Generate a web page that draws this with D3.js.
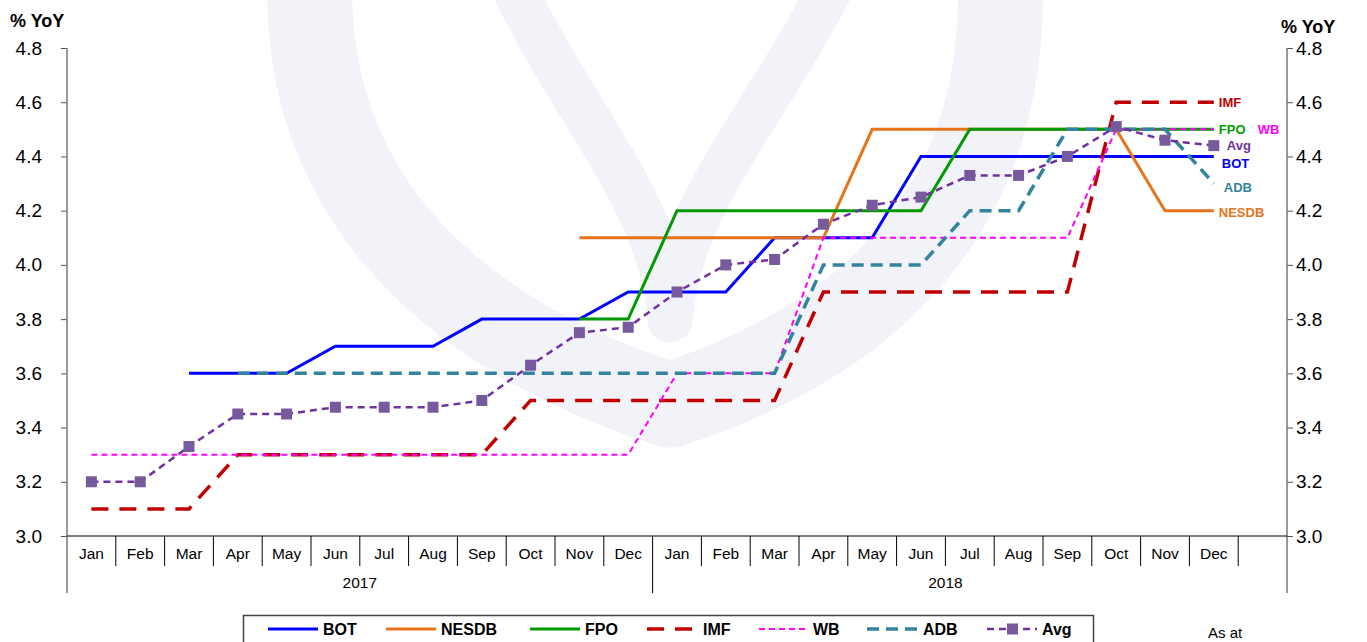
<!DOCTYPE html>
<html lang="en">
  <head>
    <meta charset="UTF-8" />
    <title>GDP forecasts</title>
    <style>
      body { margin: 0; background: #fff; }
      svg { display: block; font-family: "Liberation Sans", Arial, sans-serif; }
    </style>
  </head>
  <body>
    <div id="chart">
      <svg width="1367" height="642"></svg>
    </div>
    <script src="https://d3js.org/d3.v7.min.js"></script>
    <script>
      // categories: 24 months + one empty slot before the right axis
      var monthNames = ["Jan", "Feb", "Mar", "Apr", "May", "Jun", "Jul", "Aug", "Sep", "Oct", "Nov", "Dec"];
      var years = ["2017", "2018"];
      var yTicks = [3.0, 3.2, 3.4, 3.6, 3.8, 4.0, 4.2, 4.4, 4.6, 4.8];

      // % YoY forecasts, Jan 2017 .. Dec 2018 (null = no forecast)
      var bot = [null, null, 3.6, 3.6, 3.6, 3.7, 3.7, 3.7, 3.8, 3.8, 3.8, 3.9,
                 3.9, 3.9, 4.1, 4.1, 4.1, 4.4, 4.4, 4.4, 4.4, 4.4, 4.4, 4.4];
      var nesdb = [null, null, null, null, null, null, null, null, null, null, 4.1, 4.1,
                   4.1, 4.1, 4.1, 4.1, 4.5, 4.5, 4.5, 4.5, 4.5, 4.5, 4.2, 4.2];
      var fpo = [null, null, null, null, null, null, null, null, null, null, 3.8, 3.8,
                 4.2, 4.2, 4.2, 4.2, 4.2, 4.2, 4.5, 4.5, 4.5, 4.5, 4.5, 4.5];
      var imf = [3.1, 3.1, 3.1, 3.3, 3.3, 3.3, 3.3, 3.3, 3.3, 3.5, 3.5, 3.5,
                 3.5, 3.5, 3.5, 3.9, 3.9, 3.9, 3.9, 3.9, 3.9, 4.6, 4.6, 4.6];
      var wb = [3.3, 3.3, 3.3, 3.3, 3.3, 3.3, 3.3, 3.3, 3.3, 3.3, 3.3, 3.3,
                3.6, 3.6, 3.6, 4.1, 4.1, 4.1, 4.1, 4.1, 4.1, 4.5, 4.5, 4.5];
      var adb = [null, null, null, 3.6, 3.6, 3.6, 3.6, 3.6, 3.6, 3.6, 3.6, 3.6,
                 3.6, 3.6, 3.6, 4.0, 4.0, 4.0, 4.2, 4.2, 4.5, 4.5, 4.5, 4.3];
      var avg = [3.2, 3.2, 3.33, 3.45, 3.45, 3.475, 3.475, 3.475, 3.5, 3.63, 3.75, 3.77,
                 3.9, 4.0, 4.02, 4.15, 4.22, 4.25, 4.33, 4.33, 4.4, 4.51, 4.46, 4.44];

      var series = [
        { name: "BOT", values: bot, color: "#0000ff", width: 3, dash: null, labelColor: "#0000ff" },
        { name: "NESDB", values: nesdb, color: "#e8731a", width: 3, dash: null, labelColor: "#e8731a" },
        { name: "FPO", values: fpo, color: "#009a00", width: 3, dash: null, labelColor: "#00a000" },
        { name: "IMF", values: imf, color: "#c00000", width: 3.5, dash: "17,11", labelColor: "#c00000" },
        { name: "WB", values: wb, color: "#ff00ff", width: 2, dash: "6,4", labelColor: "#ff00ff" },
        { name: "ADB", values: adb, color: "#31849b", width: 3.5, dash: "12,7", labelColor: "#31849b" },
        { name: "Avg", values: avg, color: "#7030a0", width: 2.5, dash: "7,5", labelColor: "#7030a0", marker: "#775a9e" }
      ];

      // end-of-line labels (offsets from last point)
      var endLabels = {
        IMF: { dx: 5, dy: 0 }, FPO: { dx: 5, dy: 0 }, WB: { dx: 44, dy: 0 },
        Avg: { dx: 13, dy: 0 }, BOT: { dx: 8, dy: 7 }, ADB: { dx: 10, dy: 4 }, NESDB: { dx: 5, dy: 2 }
      };
      var legendPos = [
        { lx: 268, tx: 323 }, { lx: 386, tx: 441 }, { lx: 530, tx: 585 }, { lx: 647, tx: 703 },
        { lx: 759, tx: 813 }, { lx: 867, tx: 923 }, { lx: 987, tx: 1042 }
      ];

      var svg = d3.select("#chart>svg");
      var plotLeft = 67, plotRight = 1287, plotTop = 48, plotBottom = 536, axisFoot = 593;

      var cats = [];
      years.forEach(function (yr) {
        monthNames.forEach(function (m) { cats.push(yr + "-" + m); });
      });
      var slots = cats.concat(["blank"]);

      var x = d3.scaleBand().domain(slots).range([plotLeft, plotRight]).paddingInner(0).paddingOuter(0);
      var y = d3.scaleLinear().domain([3.0, 4.8]).range([plotBottom, plotTop]);
      var cx = function (i) { return x(cats[i]) + x.bandwidth() / 2; };

      // faint watermark behind the plot
      var wm = svg.append("g").attr("fill", "none").attr("stroke", "#f2f3f9").attr("stroke-linecap", "round");
      wm.append("path").attr("stroke-width", 85).attr("d", "M310,-30 C300,210 470,340 670,405");
      wm.append("path").attr("stroke-width", 85).attr("d", "M1000,-30 C1010,210 870,340 670,405");
      wm.append("path").attr("stroke-width", 45).attr("d", "M505,-30 C575,120 662,200 670,320");
      wm.append("path").attr("stroke-width", 45).attr("d", "M840,-30 C765,120 680,200 670,320");

      // y axes
      var fmt = d3.format(".1f");
      var yl = svg.append("g").attr("transform", "translate(" + plotLeft + ",0)")
        .call(d3.axisLeft(y).tickValues(yTicks).tickFormat(fmt).tickSize(6).tickPadding(19));
      var yr = svg.append("g").attr("transform", "translate(" + plotRight + ",0)")
        .call(d3.axisRight(y).tickValues(yTicks).tickFormat(fmt).tickSize(6).tickPadding(3));
      [yl, yr].forEach(function (g) {
        g.select(".domain").remove();
        g.selectAll(".tick line").attr("stroke", "#555");
        g.selectAll(".tick text").attr("font-size", 19).attr("font-family", "Liberation Sans, Arial").attr("fill", "#000");
      });
      svg.append("line").attr("x1", plotLeft).attr("x2", plotLeft).attr("y1", plotTop).attr("y2", axisFoot)
        .attr("stroke", "#777").attr("stroke-width", 1.5);
      svg.append("line").attr("x1", plotRight).attr("x2", plotRight).attr("y1", plotTop).attr("y2", axisFoot)
        .attr("stroke", "#777").attr("stroke-width", 1.5);
      svg.append("line").attr("x1", plotLeft).attr("x2", plotRight).attr("y1", plotBottom).attr("y2", plotBottom)
        .attr("stroke", "#000").attr("stroke-width", 1.2);

      // axis titles
      svg.append("text").attr("x", 10).attr("y", 27).attr("font-size", 18).attr("font-weight", "bold").text("% YoY");
      svg.append("text").attr("x", 1281).attr("y", 33).attr("font-size", 18).attr("font-weight", "bold").text("% YoY");

      // category axis: month separators, labels, years
      var cat = svg.append("g");
      cats.forEach(function (c, i) {
        if (i > 0) {
          cat.append("line").attr("x1", x(c)).attr("x2", x(c)).attr("y1", plotBottom)
            .attr("y2", i % 12 === 0 ? axisFoot : 566).attr("stroke", "#000").attr("stroke-width", 1);
        }
        cat.append("text").attr("x", cx(i)).attr("y", 559).attr("text-anchor", "middle")
          .attr("font-size", 15.5).text(monthNames[i % 12]);
      });
      cat.append("line").attr("x1", x("blank")).attr("x2", x("blank")).attr("y1", plotBottom).attr("y2", 566)
        .attr("stroke", "#000");
      years.forEach(function (yrName, k) {
        var x0 = x(cats[k * 12]), x1 = x(cats[k * 12 + 11]) + x.bandwidth();
        cat.append("text").attr("x", (x0 + x1) / 2).attr("y", 588).attr("text-anchor", "middle")
          .attr("font-size", 15.5).text(yrName);
      });

      // lines
      var line = d3.line()
        .defined(function (d) { return d != null; })
        .x(function (d, i) { return cx(i); })
        .y(function (d) { return y(d); });

      var plot = svg.append("g");
      series.forEach(function (s) {
        plot.append("path").datum(s.values)
          .attr("fill", "none").attr("stroke", s.color).attr("stroke-width", s.width)
          .attr("stroke-dasharray", s.dash).attr("stroke-linejoin", "miter")
          .attr("d", line);
        if (s.marker) {
          plot.selectAll(null).data(s.values).enter().append("rect")
            .attr("x", function (d, i) { return cx(i) - 5.5; })
            .attr("y", function (d) { return y(d) - 5.5; })
            .attr("width", 11).attr("height", 11).attr("fill", s.marker);
        }
      });

      // end labels
      series.forEach(function (s) {
        var n = s.values.length - 1, o = endLabels[s.name];
        svg.append("text").attr("x", cx(n) + o.dx).attr("y", y(s.values[n]) + o.dy)
          .attr("dy", "0.35em").attr("font-size", 13).attr("font-weight", "bold")
          .attr("fill", s.labelColor).text(s.name);
      });

      // legend
      var lg = svg.append("g");
      lg.append("rect").attr("x", 243.5).attr("y", 615.5).attr("width", 850).attr("height", 40)
        .attr("fill", "#fff").attr("stroke", "#444").attr("stroke-width", 1.5);
      series.forEach(function (s, i) {
        var p = legendPos[i], ly = 629;
        lg.append("line").attr("x1", p.lx).attr("x2", p.lx + 50).attr("y1", ly).attr("y2", ly)
          .attr("stroke", s.color).attr("stroke-width", s.width).attr("stroke-dasharray", s.dash);
        if (s.marker) {
          lg.append("rect").attr("x", p.lx + 20).attr("y", ly - 5.5).attr("width", 11).attr("height", 11)
            .attr("fill", s.marker);
        }
        lg.append("text").attr("x", p.tx).attr("y", ly).attr("dy", "0.35em")
          .attr("font-size", 16).attr("font-weight", "bold").text(s.name);
      });
      svg.append("text").attr("x", 1208).attr("y", 638).attr("font-size", 15).text("As at");
    </script>
  </body>
</html>
